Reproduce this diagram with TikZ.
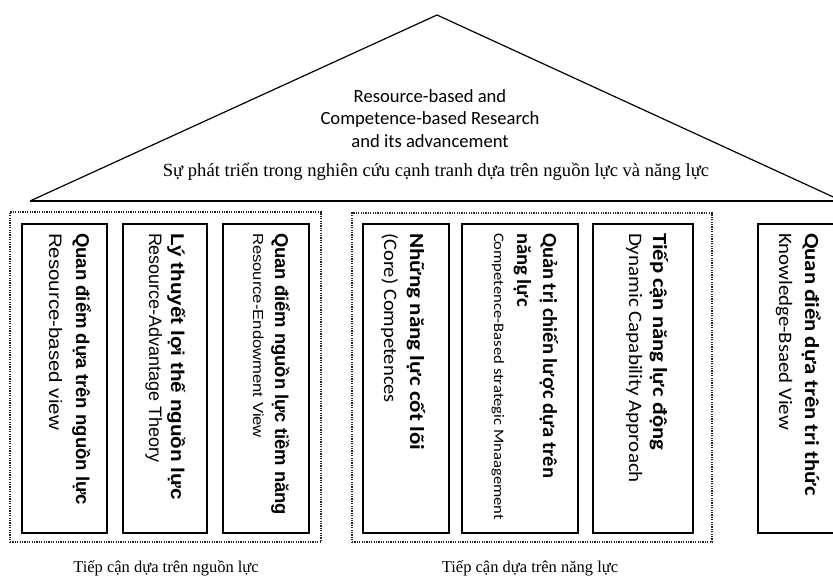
\documentclass[tikz,border=0pt]{standalone}
\usepackage{fontspec}
\usepackage{graphicx}
\newfontfamily\arialf{Liberation Sans}
\newfontfamily\calf{Carlito}
\newfontfamily\timesf{Liberation Serif}
\newcommand\fitw[2]{\resizebox{#1pt}{\height}{#2}}
\begin{document}
\begin{tikzpicture}[x=1pt,y=-1pt,
  pillar/.style={draw=black, line width=1.5pt, inner sep=0pt, outer sep=0pt,
    minimum width=#1, minimum height=309pt, anchor=north west},
  grp/.style={draw=black!85, line width=1.2pt, dash pattern=on 1.2pt off 1.2pt,
    inner sep=0pt, outer sep=0pt, anchor=north west},
  vt/.style={anchor=base west, rotate=-90, inner sep=0pt, outer sep=0pt},
  roofline/.style={draw=black, line width=1.2pt},
  baseline/.style={draw=black, line width=2.4pt},
  atitle/.style={font=\fontsize{18.5}{22}\selectfont\arialf\bfseries},
  asub/.style={font=\fontsize{18}{22}\selectfont\arialf},
  asubsmall/.style={font=\fontsize{14.5}{17}\selectfont\arialf},
  ctitle/.style={font=\fontsize{20}{24}\selectfont\calf\bfseries},
  csub/.style={font=\fontsize{19}{23}\selectfont\calf},
  csubsmall/.style={font=\fontsize{14.5}{17}\selectfont\calf},
  rooftext/.style={font=\fontsize{18.6}{22.5}\selectfont\calf, anchor=base, inner sep=0pt},
  serif/.style={font=\fontsize{18.6}{22.5}\selectfont\timesf, anchor=base, inner sep=0pt},
  serifsmall/.style={font=\fontsize{16.5}{20}\selectfont\timesf, anchor=base, inner sep=0pt}
]
\useasboundingbox (0,0) rectangle (833,579);
\clip (0,0) rectangle (833,579);

% roof
\coordinate (apex) at (437,15);
\coordinate (rl) at (30,201);
\coordinate (rr) at (842,201);
\draw[roofline] (rl) -- (apex) -- (rr);
\draw[baseline] (rl) -- (rr);
\node[rooftext] (r1) at (430,102) {Resource-based and};
\node[rooftext] (r2) at (430,124.5) {Competence-based Research};
\node[rooftext] (r3) at (430,147) {and its advancement};
\node[serif] (r4) at (436,176) {Sự phát triển trong nghiên cứu cạnh tranh dựa trên nguồn lực và năng lực};

% groups
\node[grp, minimum width=311pt, minimum height=330pt] (gL) at (10,212) {};
\node[grp, minimum width=360pt, minimum height=329pt] (gR) at (352,213) {};

% pillars
\node[pillar=85pt] (p1) at (22,224) {};
\node[pillar=84pt] (p2) at (123,224) {};
\node[pillar=86pt] (p3) at (223,224) {};
\node[pillar=86pt] (p4) at (363,224) {};
\node[pillar=116pt] (p5) at (462,224) {};
\node[pillar=100pt] (p6) at (593,224) {};
\node[pillar=95pt] (p7) at (758,224) {};

% pillar texts
\node[vt, atitle] (t1) at (76,233) {\fitw{272}{Quan điểm dựa trên nguồn lực}};
\node[vt, asub] (s1) at (49,233) {\fitw{197}{Resource-based view}};
\node[vt, atitle] (t2) at (171,233) {\fitw{267}{Lý thuyết lợi thế nguồn lực}};
\node[vt, asub] (s2) at (149,233) {\fitw{230}{Resource-Advantage Theory}};
\node[vt, atitle] (t3) at (275,233) {\fitw{282}{Quan điểm nguồn lực tiềm năng}};
\node[vt, asubsmall] (s3) at (253,233) {\fitw{205}{Resource-Endowment View}};

\node[vt, ctitle] (t4) at (410,233) {\fitw{217}{Những năng lực cốt lõi}};
\node[vt, csub] (s4) at (384,233) {\fitw{170}{(Core) Competences}};
\node[vt, ctitle] (t5a) at (543,233) {\fitw{245}{Quản trị chiến lược dựa trên}};
\node[vt, ctitle] (t5b) at (517,233) {\fitw{74}{năng lực}};
\node[vt, csubsmall] (s5) at (494,233) {\fitw{287}{Competence-Based strategic Mnaagement}};
\node[vt, ctitle] (t6) at (653,233) {\fitw{217}{Tiếp cận năng lực động}};
\node[vt, csub] (s6) at (629,233) {\fitw{250}{Dynamic Capability Approach}};
\node[vt, ctitle] (t7) at (805,233) {\fitw{263}{Quan điển dựa trên tri thức}};
\node[vt, csub] (s7) at (779,233) {\fitw{197}{Knowledge-Bsaed View}};

% bottom labels
\node[serifsmall] (bL) at (166,572) {Tiếp cận dựa trên nguồn lực};
\node[serifsmall] (bR) at (530,572) {Tiếp cận dựa trên năng lực};
\end{tikzpicture}
\end{document}
